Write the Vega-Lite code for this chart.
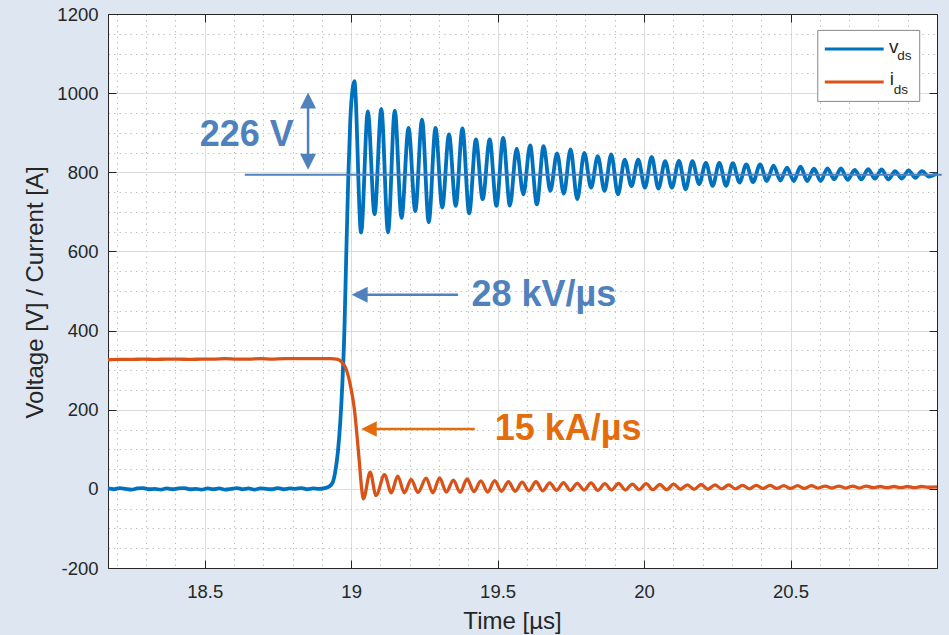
{
  "$schema": "https://vega.github.io/schema/vega-lite/v6.json",
  "width": 829,
  "height": 554,
  "autosize": {"type": "none"},
  "padding": {"left": 108, "top": 14, "right": 12, "bottom": 67},
  "background": "#dde6f1",
  "config": {"view": {"fill": "white", "stroke": null}, "font": "Liberation Sans"},
  "resolve": {"axis": {"x": "independent", "y": "independent"}},
  "datasets": {
    "vds": [
      {"t":18.17,"v":1},{"t":18.19,"v":-1},{"t":18.21,"v":2},{"t":18.23,"v":0},{"t":18.25,"v":-2},{"t":18.27,"v":1},{"t":18.29,"v":2},{"t":18.31,"v":-1},{"t":18.33,"v":0},{"t":18.35,"v":-2},
      {"t":18.37,"v":1},{"t":18.39,"v":-1},{"t":18.41,"v":1},{"t":18.43,"v":2},{"t":18.45,"v":-1},{"t":18.47,"v":0},{"t":18.49,"v":-2},{"t":18.51,"v":1},{"t":18.53,"v":-1},{"t":18.55,"v":1},
      {"t":18.57,"v":-2},{"t":18.59,"v":0},{"t":18.61,"v":2},{"t":18.63,"v":-1},{"t":18.65,"v":1},{"t":18.67,"v":-2},{"t":18.69,"v":1},{"t":18.71,"v":0},{"t":18.73,"v":-1},{"t":18.75,"v":2},
      {"t":18.77,"v":-1},{"t":18.79,"v":1},{"t":18.81,"v":0},{"t":18.83,"v":2},{"t":18.85,"v":-1},{"t":18.87,"v":1},{"t":18.89,"v":0},{"t":18.91,"v":2},{"t":18.925,"v":6},{"t":18.937,"v":16},
      {"t":18.945,"v":40},{"t":18.955,"v":95},{"t":18.963,"v":170},{"t":18.970,"v":265},{"t":18.977,"v":400},{"t":18.983,"v":580},{"t":18.990,"v":780},{"t":18.997,"v":930},{"t":19.004,"v":1005},{"t":19.011,"v":1030},
      {"t":19.034,"v":648},{"t":19.057,"v":954},{"t":19.080,"v":694},{"t":19.103,"v":960},{"t":19.126,"v":648},{"t":19.149,"v":956},{"t":19.172,"v":685},{"t":19.196,"v":912},{"t":19.219,"v":702},{"t":19.242,"v":933},
      {"t":19.265,"v":674},{"t":19.288,"v":912},{"t":19.311,"v":711},{"t":19.334,"v":896},{"t":19.357,"v":715},{"t":19.380,"v":911},{"t":19.403,"v":696},{"t":19.426,"v":883},{"t":19.449,"v":732},{"t":19.473,"v":883},
      {"t":19.496,"v":715},{"t":19.519,"v":887},{"t":19.542,"v":716},{"t":19.565,"v":860},{"t":19.588,"v":744},{"t":19.611,"v":868},{"t":19.634,"v":719},{"t":19.657,"v":866},{"t":19.680,"v":753},{"t":19.703,"v":848},
      {"t":19.726,"v":746},{"t":19.749,"v":858},{"t":19.772,"v":732},{"t":19.796,"v":849},{"t":19.819,"v":761},{"t":19.842,"v":841},{"t":19.865,"v":753},{"t":19.888,"v":845},{"t":19.911,"v":744},{"t":19.934,"v":832},
      {"t":19.957,"v":765},{"t":19.980,"v":832},{"t":20.003,"v":761},{"t":20.026,"v":839},{"t":20.049,"v":759},{"t":20.072,"v":828},{"t":20.095,"v":761},{"t":20.119,"v":829},{"t":20.142,"v":757},{"t":20.165,"v":828},
      {"t":20.188,"v":770},{"t":20.211,"v":824},{"t":20.234,"v":766},{"t":20.257,"v":824},{"t":20.280,"v":766},{"t":20.303,"v":823},{"t":20.326,"v":774},{"t":20.349,"v":820},{"t":20.372,"v":775},{"t":20.396,"v":820},
      {"t":20.419,"v":778},{"t":20.442,"v":817},{"t":20.465,"v":779},{"t":20.488,"v":812},{"t":20.511,"v":778},{"t":20.534,"v":814},{"t":20.557,"v":778},{"t":20.580,"v":809},{"t":20.603,"v":778},{"t":20.626,"v":810},
      {"t":20.649,"v":782},{"t":20.672,"v":810},{"t":20.695,"v":781},{"t":20.719,"v":806},{"t":20.742,"v":782},{"t":20.765,"v":808},{"t":20.788,"v":784},{"t":20.811,"v":807},{"t":20.834,"v":782},{"t":20.857,"v":803},
      {"t":20.880,"v":784},{"t":20.903,"v":805},{"t":20.926,"v":786},{"t":20.949,"v":803},{"t":20.972,"v":789},{"t":21.0,"v":797}
    ],
    "ids": [
      {"t":18.17,"i":326},{"t":18.21,"i":327},{"t":18.25,"i":327},{"t":18.29,"i":328},{"t":18.33,"i":327},{"t":18.37,"i":328},{"t":18.41,"i":328},{"t":18.45,"i":327},{"t":18.49,"i":328},{"t":18.53,"i":328},
      {"t":18.57,"i":329},{"t":18.61,"i":328},{"t":18.65,"i":328},{"t":18.69,"i":329},{"t":18.73,"i":328},{"t":18.77,"i":329},{"t":18.81,"i":329},{"t":18.85,"i":329},{"t":18.89,"i":329},{"t":18.93,"i":329},
      {"t":18.955,"i":327},{"t":18.968,"i":320},{"t":18.983,"i":303},{"t":19.000,"i":252},{"t":19.011,"i":202},{"t":19.020,"i":135},{"t":19.028,"i":68},{"t":19.036,"i":0},{"t":19.042,"i":-25},{"t":19.065,"i":42},
      {"t":19.085,"i":-17},{"t":19.114,"i":36},{"t":19.137,"i":-10},{"t":19.159,"i":32},{"t":19.182,"i":-10},{"t":19.205,"i":24},{"t":19.228,"i":-9},{"t":19.256,"i":27},{"t":19.279,"i":-10},{"t":19.302,"i":28},
      {"t":19.325,"i":-8},{"t":19.349,"i":22},{"t":19.372,"i":-9},{"t":19.396,"i":25},{"t":19.419,"i":-7},{"t":19.443,"i":20},{"t":19.466,"i":-8},{"t":19.490,"i":21},{"t":19.513,"i":-6},{"t":19.537,"i":18},
      {"t":19.560,"i":-6},{"t":19.584,"i":17},{"t":19.607,"i":-5},{"t":19.631,"i":18},{"t":19.654,"i":-5},{"t":19.678,"i":15},{"t":19.701,"i":-4},{"t":19.725,"i":16},{"t":19.748,"i":-4},{"t":19.772,"i":14},
      {"t":19.795,"i":-3},{"t":19.819,"i":15},{"t":19.842,"i":-4},{"t":19.866,"i":13},{"t":19.889,"i":-3},{"t":19.913,"i":14},{"t":19.936,"i":-3},{"t":19.960,"i":12},{"t":19.983,"i":-2},{"t":20.007,"i":13},
      {"t":20.030,"i":-2},{"t":20.054,"i":11},{"t":20.077,"i":-2},{"t":20.101,"i":12},{"t":20.124,"i":-1},{"t":20.148,"i":10},{"t":20.171,"i":-1},{"t":20.195,"i":11},{"t":20.218,"i":-1},{"t":20.242,"i":10},
      {"t":20.265,"i":0},{"t":20.289,"i":10},{"t":20.312,"i":0},{"t":20.336,"i":9},{"t":20.359,"i":0},{"t":20.383,"i":9},{"t":20.406,"i":1},{"t":20.430,"i":9},{"t":20.453,"i":1},{"t":20.477,"i":8},
      {"t":20.500,"i":1},{"t":20.524,"i":8},{"t":20.547,"i":1},{"t":20.571,"i":8},{"t":20.594,"i":2},{"t":20.618,"i":7},{"t":20.641,"i":2},{"t":20.665,"i":7},{"t":20.688,"i":2},{"t":20.712,"i":7},
      {"t":20.735,"i":2},{"t":20.759,"i":7},{"t":20.782,"i":3},{"t":20.806,"i":6},{"t":20.829,"i":3},{"t":20.853,"i":6},{"t":20.876,"i":3},{"t":20.900,"i":6},{"t":20.923,"i":3},{"t":20.947,"i":6},
      {"t":20.970,"i":4},{"t":21.0,"i":5}
    ],
    "refline": [{"t0":18.637,"t1":21.016,"v0":794,"v1":794}],
    "blueArrows": [
      {"t0":18.853,"t1":18.853,"v0":981.7,"v1":826.7},
      {"t0":19.029,"t1":19.365,"v0":490.6,"v1":490.6}
    ],
    "blueHeads": [
      {"t":18.853,"v":981.7,"dir":"up"},
      {"t":18.853,"v":826.7,"dir":"down"},
      {"t":19.029,"v":490.6,"dir":"left"}
    ],
    "orangeArrow": [{"t0":19.061,"t1":19.422,"v0":151.5,"v1":151.5}],
    "orangeHead": [{"t":19.061,"v":151.5,"dir":"left"}],
    "blueText": [
      {"t":18.483,"v":865.4,"label":"226 V"},
      {"t":19.4107,"v":461,"label":"28 kV/µs"}
    ],
    "orangeText": [{"t":19.49,"v":124.2,"label":"15 kA/µs"}],
    "legendBox": [{"t0":20.593,"t1":20.941,"v0":1158.6,"v1":979.1}],
    "legendLines": [
      {"s":"vds","t0":20.617,"t1":20.818,"v":1111.5},
      {"s":"ids","t0":20.617,"t1":20.818,"v":1028}
    ],
    "legendMain": [
      {"t":20.836,"v":1101.4,"label":"v"},
      {"t":20.839,"v":1021.3,"label":"i"}
    ],
    "legendSub": [
      {"t":20.864,"v":1082.7,"label":"ds"},
      {"t":20.852,"v":998.6,"label":"ds"}
    ]
  },
  "layer": [
    {
      "data": {"name": "vds"},
      "mark": {"type": "line", "color": "#0072bd", "strokeWidth": 3.8, "interpolate": "monotone"},
      "encoding": {
        "x": {"field": "t", "type": "quantitative",
          "scale": {"domain": [18.17, 21.0], "nice": false, "zero": false},
          "axis": {"orient": "bottom", "values": [18.2,18.3,18.4,18.6,18.7,18.8,18.9,19.1,19.2,19.3,19.4,19.6,19.7,19.8,19.9,20.1,20.2,20.3,20.4,20.6,20.7,20.8,20.9],
            "grid": true, "gridDash": [1.5, 4], "gridColor": "#c2c2c2", "gridWidth": 1,
            "labels": false, "ticks": false, "domain": false, "title": null}},
        "y": {"field": "v", "type": "quantitative",
          "scale": {"domain": [-200, 1200], "nice": false, "zero": false},
          "axis": {"orient": "left", "values": [-150,-100,-50,50,100,150,250,300,350,450,500,550,650,700,750,850,900,950,1050,1100,1150],
            "grid": true, "gridDash": [1.5, 4], "gridColor": "#c2c2c2", "gridWidth": 1,
            "labels": false, "ticks": false, "domain": false, "title": null}}
      }
    },
    {
      "data": {"name": "ids"},
      "mark": {"type": "line", "color": "#d95319", "strokeWidth": 3.3, "interpolate": "monotone"},
      "encoding": {
        "x": {"field": "t", "type": "quantitative",
          "scale": {"domain": [18.17, 21.0], "nice": false, "zero": false},
          "axis": {"orient": "bottom", "values": [18.5, 19, 19.5, 20, 20.5], "labelExpr": "'' + datum.value",
            "grid": true, "gridColor": "#dcdcdc", "gridWidth": 1,
            "ticks": true, "tickSize": -8, "tickColor": "#262626", "tickWidth": 1,
            "domain": true, "domainColor": "#262626", "domainWidth": 1,
            "labelFontSize": 18.5, "labelColor": "#262626", "labelFont": "Liberation Sans", "labelPadding": 22, "labelOverlap": false, "labelFlush": false,
            "title": "Time [µs]", "titleFontSize": 24, "titleFontWeight": "normal", "titleColor": "#262626", "titleFont": "Liberation Sans",
            "titleX": 404, "titleY": 60, "titleAlign": "center", "titleBaseline": "alphabetic"}},
        "y": {"field": "i", "type": "quantitative",
          "scale": {"domain": [-200, 1200], "nice": false, "zero": false},
          "axis": {"orient": "left", "values": [-200,0,200,400,600,800,1000,1200], "labelExpr": "'' + datum.value",
            "grid": true, "gridColor": "#dcdcdc", "gridWidth": 1,
            "ticks": true, "tickSize": -8, "tickColor": "#262626", "tickWidth": 1,
            "domain": true, "domainColor": "#262626", "domainWidth": 1,
            "labelFontSize": 18.5, "labelColor": "#262626", "labelFont": "Liberation Sans", "labelPadding": 18, "labelOverlap": false, "labelFlush": false,
            "title": "Voltage [V] / Current [A]", "titleFontSize": 24, "titleFontWeight": "normal", "titleColor": "#262626", "titleFont": "Liberation Sans",
            "titleAngle": 270, "titleX": -66, "titleY": 278, "titleAlign": "center", "titleBaseline": "alphabetic"}}
      }
    },
    {
      "data": {"name": "refline"},
      "mark": {"type": "rule", "color": "#4f81bd", "strokeWidth": 2},
      "encoding": {
        "x": {"field": "t0", "type": "quantitative",
          "scale": {"domain": [18.17, 21.0], "nice": false, "zero": false},
          "axis": {"orient": "top", "values": [18.5, 19, 19.5, 20, 20.5], "grid": false, "labels": false,
            "ticks": true, "tickSize": -8, "tickColor": "#262626", "tickWidth": 1,
            "domain": true, "domainColor": "#262626", "domainWidth": 1, "title": null}},
        "x2": {"field": "t1"},
        "y": {"field": "v0", "type": "quantitative",
          "scale": {"domain": [-200, 1200], "nice": false, "zero": false},
          "axis": {"orient": "right", "values": [-200,0,200,400,600,800,1000,1200], "grid": false, "labels": false,
            "ticks": true, "tickSize": -8, "tickColor": "#262626", "tickWidth": 1,
            "domain": true, "domainColor": "#262626", "domainWidth": 1, "title": null}},
        "y2": {"field": "v1"}
      }
    },
    {
      "data": {"name": "blueArrows"},
      "mark": {"type": "rule", "color": "#4f81bd", "strokeWidth": 2.5},
      "encoding": {
        "x": {"field": "t0", "type": "quantitative", "axis": null},
        "x2": {"field": "t1"},
        "y": {"field": "v0", "type": "quantitative", "axis": null},
        "y2": {"field": "v1"}
      }
    },
    {
      "data": {"name": "orangeArrow"},
      "mark": {"type": "rule", "color": "#e46c0a", "strokeWidth": 2.5},
      "encoding": {
        "x": {"field": "t0", "type": "quantitative", "axis": null},
        "x2": {"field": "t1"},
        "y": {"field": "v0", "type": "quantitative", "axis": null},
        "y2": {"field": "v1"}
      }
    },
    {
      "data": {"name": "blueHeads"},
      "mark": {"type": "point", "filled": true, "color": "#4f81bd", "opacity": 1, "size": 256, "strokeWidth": 0},
      "encoding": {
        "x": {"field": "t", "type": "quantitative", "axis": null},
        "y": {"field": "v", "type": "quantitative", "axis": null},
        "shape": {"field": "dir", "type": "nominal", "legend": null,
          "scale": {"domain": ["up", "down", "left"], "range": ["M0,-1L1,1L-1,1Z", "M0,1L1,-1L-1,-1Z", "M-1,0L1,-1L1,1Z"]}}
      }
    },
    {
      "data": {"name": "orangeHead"},
      "mark": {"type": "point", "filled": true, "color": "#e46c0a", "opacity": 1, "size": 240, "strokeWidth": 0, "shape": "M-1,0L1,-1L1,1Z"},
      "encoding": {
        "x": {"field": "t", "type": "quantitative", "axis": null},
        "y": {"field": "v", "type": "quantitative", "axis": null}
      }
    },
    {
      "data": {"name": "blueText"},
      "mark": {"type": "text", "color": "#4f81bd", "font": "Liberation Sans", "fontWeight": "bold", "fontSize": 36, "align": "left", "baseline": "alphabetic"},
      "encoding": {
        "x": {"field": "t", "type": "quantitative", "axis": null},
        "y": {"field": "v", "type": "quantitative", "axis": null},
        "text": {"field": "label"}
      }
    },
    {
      "data": {"name": "orangeText"},
      "mark": {"type": "text", "color": "#e46c0a", "font": "Liberation Sans", "fontWeight": "bold", "fontSize": 36, "align": "left", "baseline": "alphabetic"},
      "encoding": {
        "x": {"field": "t", "type": "quantitative", "axis": null},
        "y": {"field": "v", "type": "quantitative", "axis": null},
        "text": {"field": "label"}
      }
    },
    {
      "data": {"name": "legendBox"},
      "mark": {"type": "rect", "fill": "white", "stroke": "#888888", "strokeWidth": 1},
      "encoding": {
        "x": {"field": "t0", "type": "quantitative", "axis": null},
        "x2": {"field": "t1"},
        "y": {"field": "v0", "type": "quantitative", "axis": null},
        "y2": {"field": "v1"}
      }
    },
    {
      "data": {"name": "legendLines"},
      "mark": {"type": "rule", "strokeWidth": 3},
      "encoding": {
        "x": {"field": "t0", "type": "quantitative", "axis": null},
        "x2": {"field": "t1"},
        "y": {"field": "v", "type": "quantitative", "axis": null},
        "color": {"field": "s", "type": "nominal", "legend": null,
          "scale": {"domain": ["vds", "ids"], "range": ["#0072bd", "#d95319"]}}
      }
    },
    {
      "data": {"name": "legendMain"},
      "mark": {"type": "text", "color": "#262626", "font": "Liberation Sans", "fontSize": 19, "align": "left", "baseline": "alphabetic"},
      "encoding": {
        "x": {"field": "t", "type": "quantitative", "axis": null},
        "y": {"field": "v", "type": "quantitative", "axis": null},
        "text": {"field": "label"}
      }
    },
    {
      "data": {"name": "legendSub"},
      "mark": {"type": "text", "color": "#262626", "font": "Liberation Sans", "fontSize": 13.5, "align": "left", "baseline": "alphabetic"},
      "encoding": {
        "x": {"field": "t", "type": "quantitative", "axis": null},
        "y": {"field": "v", "type": "quantitative", "axis": null},
        "text": {"field": "label"}
      }
    }
  ]
}
